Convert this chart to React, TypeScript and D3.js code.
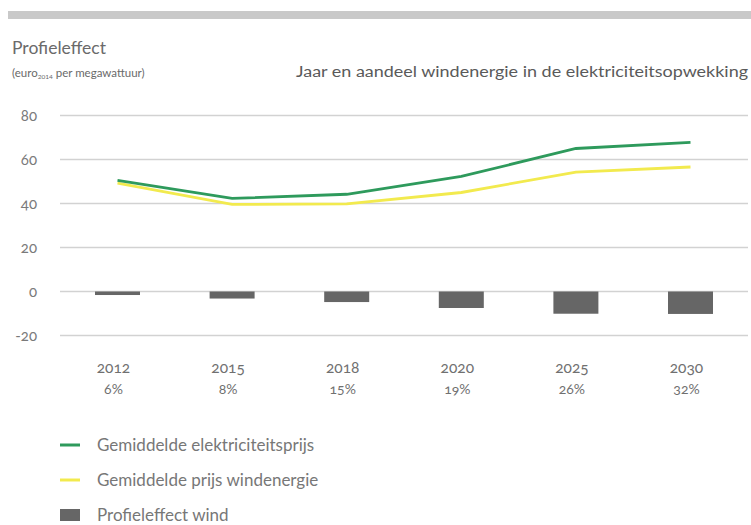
import React from "react";
import * as d3 from "d3";

const years = ["2012", "2015", "2018", "2020", "2025", "2030"];
const shares = ["6%", "8%", "15%", "19%", "26%", "32%"];
const elecPrice = [50.5, 42.3, 44.2, 52.3, 65, 67.8];
const windPrice = [49.3, 39.6, 39.8, 45, 54.3, 56.6];
const profileEffect = [-1.6, -3.2, -4.8, -7.5, -10.1, -10.2];
const yTicks = [80, 60, 40, 20, 0, -20];
const legendItems = [
  { label: "Gemiddelde elektriciteitsprijs", kind: "line", color: "#2e9a5c" },
  { label: "Gemiddelde prijs windenergie", kind: "line", color: "#f2ea4e" },
  { label: "Profieleffect wind", kind: "bar", color: "#666666" },
];

const FONT = "Lato, 'Open Sans', 'DejaVu Sans', sans-serif";
const onum = { fontVariantNumeric: "oldstyle-nums", fontFeatureSettings: "'onum' 1" } as React.CSSProperties;

export default function App() {
  const W = 751, H = 525;
  const x = d3.scalePoint<string>().domain(years).range([117.5, 690.5]);
  const y = d3.scaleLinear().domain([-20, 80]).range([335.5, 115.5]);
  const barW = 45;
  const line = d3
    .line<number>()
    .x((_, i) => x(years[i]) as number)
    .y((d) => y(d))
    .curve(d3.curveLinear);

  return (
    <svg
      width={W}
      height={H}
      style={{ position: "absolute", left: 0, top: 0, background: "#fff" }}
      fontFamily={FONT}
    >
      <rect x={8} y={11} width={743} height={8} fill="#c9c9c9" />
      <text x={12} y={54} fontSize={16.5} fill="#6a6a6a" textLength={94} lengthAdjust="spacingAndGlyphs">Profieleffect</text>
      <text x={12} y={77} fontSize={11.5} fill="#6a6a6a">
        (euro<tspan fontSize={6.5} dy={2}>2014</tspan>
        <tspan dy={-2}> per megawattuur)</tspan>
      </text>
      <text x={748} y={77} fontSize={15.5} fill="#5a5a5a" textAnchor="end" textLength={452} lengthAdjust="spacingAndGlyphs">
        Jaar en aandeel windenergie in de elektriciteitsopwekking
      </text>

      {yTicks.map((t) => (
        <g key={t}>
          <line x1={60} x2={748} y1={y(t)} y2={y(t)} stroke="#d2d2d2" strokeWidth={1.5} />
          <text x={37} y={y(t) + 5} fontSize={15} fill="#7a7a7a" textAnchor="end" style={onum}>
            {t}
          </text>
        </g>
      ))}

      {profileEffect.map((v, i) => (
        <rect key={years[i]} x={(x(years[i]) as number) - barW / 2} y={y(0)}
          width={barW} height={y(v) - y(0)} fill="#666666" />
      ))}

      <path d={line(windPrice) || ""} fill="none" stroke="#f2ea4e" strokeWidth={2.8} />
      <path d={line(elecPrice) || ""} fill="none" stroke="#2e9a5c" strokeWidth={2.8} />

      {years.map((yr, i) => (
        <g key={yr}>
          <text x={(x(yr) as number) - 4} y={373} fontSize={15.5} fill="#707070" textAnchor="middle" style={onum}>
            {yr}
          </text>
          <text x={(x(yr) as number) - 4} y={394} fontSize={14} fill="#707070" textAnchor="middle" style={onum}>
            {shares[i]}
          </text>
        </g>
      ))}

      {legendItems.map((it, i) => {
        const cy = 445 + i * 35;
        return (
          <g key={it.label}>
            {it.kind === "line" ? (
              <line x1={60} x2={80} y1={cy} y2={cy} stroke={it.color} strokeWidth={3} />
            ) : (
              <rect x={60} y={cy - 6} width={20} height={12} fill={it.color} />
            )}
            <text x={97} y={cy + 6} fontSize={17} fill="#777">{it.label}</text>
          </g>
        );
      })}
    </svg>
  );
}
